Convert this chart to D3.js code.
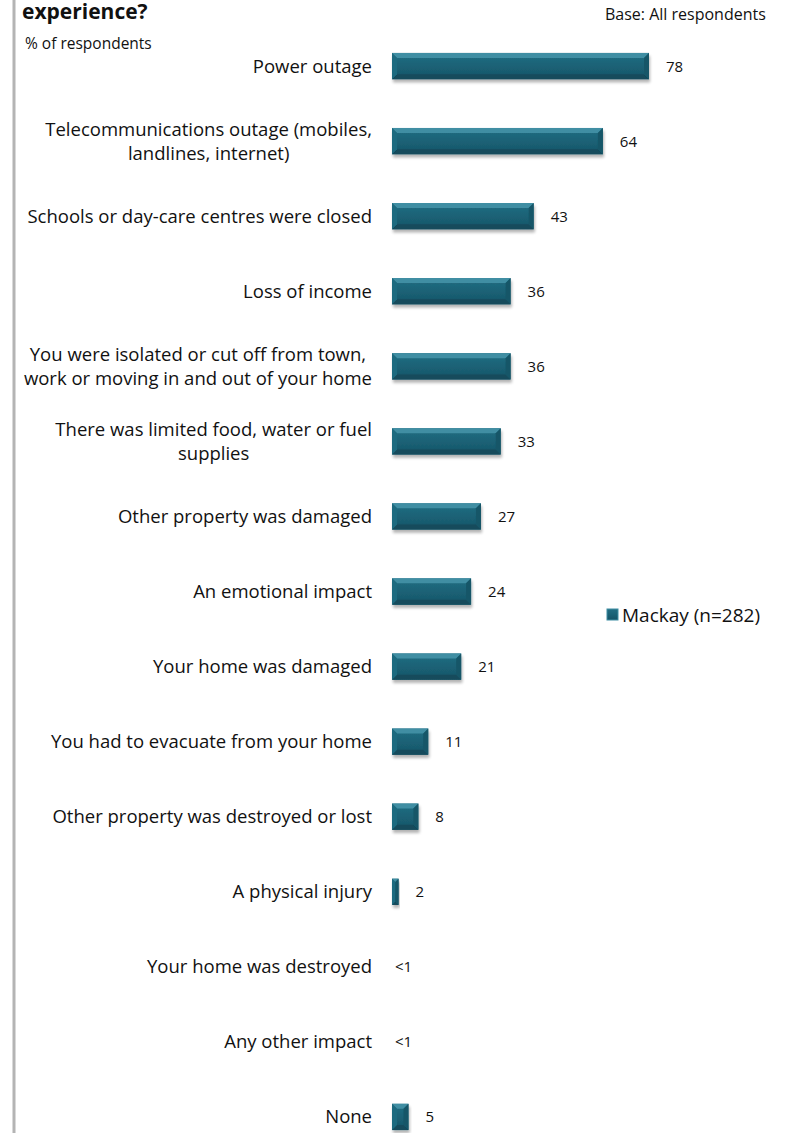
<!DOCTYPE html>
<html>
<head>
<meta charset="utf-8">
<script src="https://cdn.jsdelivr.net/npm/d3@7"></script>
<style>
  html, body { margin: 0; padding: 0; background: #fff; }
  svg { display: block; }
  text { font-family: "Open Sans", Lato, sans-serif; fill: #111; }
</style>
</head>
<body>
<svg id="chart" width="785" height="1133"></svg>
<script>
// Impacts experienced, % of respondents (Mackay)
const categories = [
  ["Power outage"],
  ["Telecommunications outage (mobiles,", "landlines, internet)"],
  ["Schools or day-care centres were closed"],
  ["Loss of income"],
  ["You were isolated or cut off from town,", "work or moving in and out of your home"],
  ["There was limited food, water or fuel", "supplies"],
  ["Other property was damaged"],
  ["An emotional impact"],
  ["Your home was damaged"],
  ["You had to evacuate from your home"],
  ["Other property was destroyed or lost"],
  ["A physical injury"],
  ["Your home was destroyed"],
  ["Any other impact"],
  ["None"]
];
const values = [78, 64, 43, 36, 36, 33, 27, 24, 21, 11, 8, 2, 0, 0, 5];
const valueLabels = ["78", "64", "43", "36", "36", "33", "27", "24", "21", "11", "8", "2", "<1", "<1", "5"];
const seriesName = "Mackay (n=282)";

const svg = d3.select("#chart");
const keys = categories.map(c => c.join(" "));

const x = d3.scaleLinear().domain([0, 78]).range([392, 649]);
const y = d3.scaleBand().domain(keys).range([28.5, 1154.5]).paddingInner(0.65).paddingOuter(0.325);

// defs: gradient + soft shadow
const defs = svg.append("defs");
const grad = defs.append("linearGradient").attr("id", "barFill").attr("x1", 0).attr("y1", 0).attr("x2", 0).attr("y2", 1);
grad.append("stop").attr("offset", "0%").attr("stop-color", "#236d82");
grad.append("stop").attr("offset", "50%").attr("stop-color", "#1b6276");
grad.append("stop").attr("offset", "100%").attr("stop-color", "#165366");
const shadow = defs.append("filter").attr("id", "shadow").attr("x", "-20%").attr("y", "-30%").attr("width", "140%").attr("height", "180%");
shadow.append("feGaussianBlur").attr("in", "SourceAlpha").attr("stdDeviation", 1.8);
shadow.append("feOffset").attr("dx", 1).attr("dy", 3).attr("result", "off");
shadow.append("feComponentTransfer").append("feFuncA").attr("type", "linear").attr("slope", 0.3);
const merge = shadow.append("feMerge");
merge.append("feMergeNode");
merge.append("feMergeNode").attr("in", "SourceGraphic");

// left frame line
svg.append("line").attr("x1", 14).attr("x2", 14).attr("y1", 0).attr("y2", 1133)
  .attr("stroke", "#b4b4b4").attr("stroke-width", 3);

// header texts
svg.append("text").attr("x", 22).attr("y", 19).attr("font-size", 21).attr("font-weight", 700).text("experience?");
svg.append("text").attr("x", 25).attr("y", 49).attr("font-size", 15.5).text("% of respondents");
svg.append("text").attr("x", 605).attr("y", 20).attr("font-size", 16).text("Base: All respondents");

// bars with bevelled faces
const bars = svg.append("g");
values.forEach((v, i) => {
  const k = keys[i];
  const x0 = x(0), w = x(v) - x(0);
  if (w <= 0) return;
  const y0 = y(k), h = y.bandwidth();
  const b = Math.min(5, w / 2, h / 3);
  const g = bars.append("g").attr("filter", "url(#shadow)");
  g.append("rect").attr("x", x0).attr("y", y0).attr("width", w).attr("height", h).attr("fill", "url(#barFill)");
  // top bevel
  g.append("polygon").attr("points", [[x0, y0], [x0 + w, y0], [x0 + w - b, y0 + b], [x0 + b, y0 + b]].join(" "))
    .attr("fill", "#3f8ea3");
  // bottom bevel
  g.append("polygon").attr("points", [[x0, y0 + h], [x0 + w, y0 + h], [x0 + w - b, y0 + h - b], [x0 + b, y0 + h - b]].join(" "))
    .attr("fill", "#134b5c");
  // left bevel
  g.append("polygon").attr("points", [[x0, y0], [x0 + b, y0 + b], [x0 + b, y0 + h - b], [x0, y0 + h]].join(" "))
    .attr("fill", "#1d6a7f");
  // right bevel
  g.append("polygon").attr("points", [[x0 + w, y0], [x0 + w - b, y0 + b], [x0 + w - b, y0 + h - b], [x0 + w, y0 + h]].join(" "))
    .attr("fill", "#165768");
});

// category labels (multi-line blocks centred, block right edge fixed)
const labelRight = 372, lineH = 24, labelSize = 18.5;
categories.forEach((lines, i) => {
  const cy = y(keys[i]) + y.bandwidth() / 2;
  const t = svg.append("text").attr("font-size", labelSize).attr("text-anchor", "middle");
  const widths = lines.map(l => {
    const m = svg.append("text").attr("font-size", labelSize).text(l);
    const wdt = m.node().getComputedTextLength(); m.remove(); return wdt;
  });
  const cx = labelRight - d3.max(widths) / 2;
  const top = cy - (lines.length - 1) * lineH / 2 + 6.5;
  lines.forEach((l, j) => {
    t.append("tspan").attr("x", cx).attr("y", top + j * lineH).text(l);
  });
});

// value labels
values.forEach((v, i) => {
  svg.append("text").attr("x", x(v) + (v > 0 ? 17 : 3)).attr("y", y(keys[i]) + y.bandwidth() / 2 + 5.5)
    .attr("font-size", 15).text(valueLabels[i]);
});

// legend
const lg = svg.append("g").attr("transform", "translate(607,609)");
lg.append("rect").attr("x", 0).attr("y", 0).attr("width", 11).attr("height", 11).attr("fill", "url(#barFill)")
  .attr("stroke", "#3f8ea3").attr("stroke-width", 1);
lg.append("text").attr("x", 15).attr("y", 12.5).attr("font-size", 19).text(seriesName);
</script>
</body>
</html>
